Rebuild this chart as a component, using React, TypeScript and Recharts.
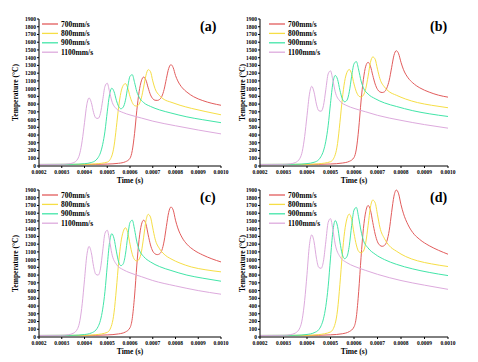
import React from 'react';
import { LineChart, Line, XAxis, YAxis, Legend } from 'recharts';

const speeds = ['700mm/s', '800mm/s', '900mm/s', '1100mm/s'];
const colors = ['#e25c5c', '#f6de45', '#42e5a8', '#ddaadd'];
const panelTags = ['(a)', '(b)', '(c)', '(d)'];

const timeTicks = [0.0002, 0.0003, 0.0004, 0.0005, 0.0006, 0.0007, 0.0008, 0.0009, 0.001];
const tempTicks = [0, 100, 200, 300, 400, 500, 600, 700, 800, 900, 1000, 1100, 1200, 1300, 1400, 1500, 1600, 1700, 1800, 1900];

// sample times for each scan speed (s)
const t700 = [0.0002, 0.0004, 0.0005, 0.00055, 0.00058, 0.0006, 0.00061, 0.00062, 0.00063, 0.00064, 0.00065, 0.00066, 0.00067, 0.00068, 0.00069, 0.0007, 0.00071, 0.00072, 0.00073, 0.00074, 0.00075, 0.00076, 0.00077, 0.00078, 0.00079, 0.0008, 0.00081, 0.00083, 0.00085, 0.00088, 0.00092, 0.00096, 0.001];
const t800 = [0.0002, 0.0004, 0.00045, 0.0005, 0.00052, 0.00053, 0.00054, 0.00055, 0.00056, 0.00057, 0.00058, 0.00059, 0.0006, 0.00061, 0.00062, 0.00063, 0.00064, 0.00065, 0.00066, 0.00067, 0.00068, 0.00069, 0.0007, 0.00071, 0.00073, 0.00075, 0.00078, 0.00082, 0.00087, 0.00093, 0.001];
const t900 = [0.0002, 0.00035, 0.0004, 0.00043, 0.00045, 0.00046, 0.00047, 0.00048, 0.00049, 0.0005, 0.00051, 0.00052, 0.00053, 0.00054, 0.00055, 0.00056, 0.00057, 0.00058, 0.00059, 0.0006, 0.00061, 0.00062, 0.00063, 0.00064, 0.00066, 0.00069, 0.00073, 0.00078, 0.00085, 0.00092, 0.001];
const t1100 = [0.0002, 0.0003, 0.00033, 0.00035, 0.00037, 0.00038, 0.00039, 0.0004, 0.00041, 0.00042, 0.00043, 0.00044, 0.00045, 0.00046, 0.00047, 0.00048, 0.00049, 0.0005, 0.00051, 0.00052, 0.00054, 0.00057, 0.0006, 0.00065, 0.0007, 0.0008, 0.0009, 0.001];

// temperatures (°C), panel (a)
const a700 = [18, 20, 25, 35, 55, 100, 200, 420, 720, 960, 1100, 1150, 1110, 1010, 920, 870, 850, 848, 860, 900, 990, 1130, 1260, 1310, 1270, 1170, 1100, 1010, 955, 895, 845, 810, 785];
const a800 = [20, 22, 28, 50, 130, 260, 500, 760, 950, 1040, 1065, 1010, 900, 820, 780, 775, 800, 880, 1020, 1170, 1245, 1220, 1100, 1000, 910, 860, 825, 785, 745, 705, 662];
const a900 = [20, 22, 30, 45, 75, 110, 170, 280, 450, 700, 920, 1005, 960, 850, 770, 740, 760, 850, 1020, 1160, 1180, 1080, 960, 890, 820, 770, 725, 685, 635, 598, 560];
const a1100 = [20, 22, 28, 40, 90, 170, 330, 560, 790, 880, 820, 690, 620, 615, 680, 850, 1030, 1070, 960, 840, 740, 690, 660, 620, 580, 520, 465, 415];

// panel (b)
const b700 = [18, 20, 26, 38, 60, 110, 220, 480, 840, 1120, 1290, 1340, 1290, 1170, 1060, 990, 958, 950, 960, 1010, 1110, 1270, 1430, 1490, 1450, 1340, 1250, 1140, 1075, 1010, 955, 915, 890];
const b800 = [20, 22, 29, 55, 145, 290, 560, 860, 1090, 1210, 1247, 1190, 1060, 960, 905, 892, 915, 1000, 1160, 1340, 1410, 1380, 1250, 1130, 1020, 960, 915, 865, 820, 785, 753];
const b900 = [20, 22, 31, 48, 82, 125, 195, 320, 520, 810, 1070, 1170, 1120, 980, 870, 830, 850, 960, 1160, 1320, 1350, 1240, 1100, 1010, 930, 870, 815, 770, 715, 675, 640];
const b1100 = [20, 22, 29, 44, 100, 190, 380, 650, 920, 1030, 955, 800, 715, 708, 780, 985, 1190, 1230, 1110, 960, 840, 780, 745, 700, 655, 590, 535, 489];

// panel (c)
const c700 = [18, 20, 27, 40, 65, 120, 240, 530, 930, 1260, 1450, 1510, 1460, 1320, 1190, 1110, 1075, 1065, 1075, 1120, 1240, 1430, 1610, 1680, 1640, 1510, 1410, 1280, 1200, 1125, 1060, 1010, 970];
const c800 = [20, 22, 30, 60, 160, 320, 620, 960, 1220, 1360, 1412, 1350, 1200, 1070, 1000, 982, 1005, 1100, 1290, 1500, 1585, 1550, 1410, 1270, 1140, 1070, 1010, 955, 905, 870, 842];
const c900 = [20, 22, 32, 52, 90, 135, 215, 360, 590, 920, 1220, 1335, 1270, 1110, 970, 922, 945, 1070, 1300, 1480, 1510, 1390, 1230, 1130, 1040, 970, 910, 860, 800, 760, 721];
const c1100 = [20, 22, 30, 47, 110, 215, 430, 740, 1050, 1170, 1090, 910, 810, 800, 880, 1110, 1340, 1380, 1250, 1080, 940, 870, 830, 780, 730, 660, 600, 553];

// panel (d)
const d700 = [18, 20, 28, 42, 70, 130, 260, 590, 1030, 1400, 1620, 1700, 1640, 1480, 1330, 1230, 1185, 1172, 1185, 1240, 1380, 1610, 1820, 1900, 1850, 1710, 1600, 1450, 1350, 1260, 1180, 1120, 1070];
const d800 = [20, 22, 31, 65, 175, 350, 680, 1060, 1360, 1530, 1588, 1520, 1340, 1190, 1105, 1088, 1110, 1220, 1440, 1680, 1770, 1735, 1580, 1420, 1270, 1180, 1110, 1040, 985, 945, 911];
const d900 = [20, 22, 33, 55, 95, 145, 235, 395, 650, 1020, 1360, 1505, 1430, 1230, 1070, 1012, 1040, 1180, 1440, 1640, 1675, 1540, 1370, 1250, 1150, 1070, 1000, 940, 880, 835, 794];
const d1100 = [20, 22, 31, 50, 120, 235, 470, 810, 1180, 1320, 1230, 1020, 900, 888, 980, 1230, 1480, 1530, 1390, 1200, 1040, 960, 915, 860, 810, 730, 670, 616];

const times = [t700, t800, t900, t1100];
const panelValues = [
  [a700, a800, a900, a1100],
  [b700, b800, b900, b1100],
  [c700, c800, c900, c1100],
  [d700, d800, d900, d1100],
];

const FONT = "'Liberation Serif', 'Times New Roman', serif";
const W = 240;
const H = 191;

const toPoints = (ts: number[], vs: number[]) => ts.map((x, i) => ({ x, y: vs[i] }));

function LegendBox(props: any) {
  const items = [...(props.payload || [])].sort(
    (p: any, q: any) => speeds.indexOf(p.value) - speeds.indexOf(q.value)
  );
  return (
    <svg width={80} height={40} style={{ display: 'block' }}>
      {items.map((it: any, i: number) => (
        <g key={i}>
          <line x1={0} x2={16} y1={5 + i * 9.4} y2={5 + i * 9.4} stroke={it.color} strokeWidth={1.3} />
          <text x={19} y={5 + i * 9.4} dy="0.35em" fontSize={7.5} fontWeight="bold" fontFamily={FONT} fill="#000">
            {it.value}
          </text>
        </g>
      ))}
    </svg>
  );
}

function Panel({ idx }: { idx: number }) {
  const right = idx % 2 === 1;
  const left = right ? 238 : 0;
  const top = idx < 2 ? 0 : 171;
  const yW = right ? 22 : 39;
  const tick = { fontSize: 5.5, fontWeight: 'bold', fontFamily: FONT, fill: '#000' };
  const title = { fontSize: 7.5, fontWeight: 'bold', fontFamily: FONT, fill: '#000' };
  return (
    <div style={{ position: 'absolute', left, top, width: W, height: H }}>
      <LineChart width={W} height={H} margin={{ top: 19, right: right ? 30 : 19, bottom: 0, left: 0 }}>
        <XAxis
          dataKey="x"
          type="number"
          domain={[0.0002, 0.001]}
          ticks={timeTicks}
          interval={0}
          tickFormatter={(v: number) => v.toFixed(4)}
          tick={tick}
          tickSize={2}
          tickMargin={2}
          height={25}
          stroke="#000"
          allowDataOverflow
          label={{ value: 'Time (s)', position: 'insideBottom', offset: 8, style: title }}
        />
        <YAxis
          dataKey="y"
          type="number"
          domain={[0, 1900]}
          ticks={tempTicks}
          interval={0}
          tick={tick}
          tickSize={2}
          tickMargin={1}
          width={yW}
          stroke="#000"
          label={{
            value: 'Temperature (°C)',
            angle: -90,
            position: 'insideLeft',
            offset: right ? 4.5 : 15,
            style: { ...title, textAnchor: 'middle' },
          }}
        />
        <Legend
          layout="vertical"
          align="center"
          verticalAlign="middle"
          content={<LegendBox />}
          wrapperStyle={{ left: right ? 31 : 42, top: 18.5, width: 80, height: 40 }}
        />
        {speeds.map((s, i) => (
          <Line
            key={s}
            name={s}
            data={toPoints(times[i], panelValues[idx][i])}
            dataKey="y"
            type="monotone"
            stroke={colors[i]}
            strokeWidth={1}
            dot={false}
            activeDot={false}
            isAnimationActive={false}
          />
        ))}
      </LineChart>
      <div
        style={{
          position: 'absolute',
          left: right ? 192 : 200,
          top: 19,
          fontFamily: FONT,
          fontWeight: 'bold',
          fontSize: 14,
          lineHeight: '16px',
        }}
      >
        {panelTags[idx]}
      </div>
    </div>
  );
}

export default function App() {
  return (
    <div style={{ position: 'absolute', left: 0, top: 0, width: 478, height: 362, background: '#fff', overflow: 'hidden' }}>
      {[0, 1, 2, 3].map((i) => (
        <Panel key={i} idx={i} />
      ))}
    </div>
  );
}
